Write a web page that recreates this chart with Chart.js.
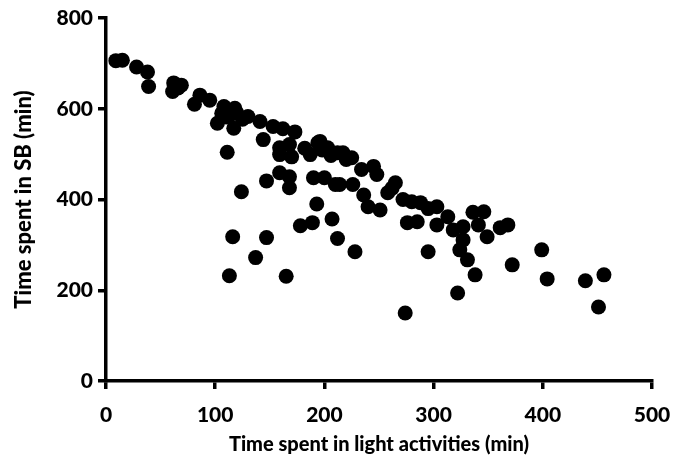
<!DOCTYPE html>
<html>
<head>
<meta charset="utf-8">
<script src="https://cdn.jsdelivr.net/npm/chart.js@4/dist/chart.umd.min.js"></script>
<style>
  html, body { margin: 0; padding: 0; background: #fff; }
  #wrap { width: 675px; height: 467px; }
</style>
</head>
<body>
<div id="wrap"><canvas id="scatter" width="675" height="467"></canvas></div>
<script>
// --- DATA ---
const lightMinutes = [
  9, 15, 28, 38, 39, 62, 69, 61, 66, 86, 81, 95, 108, 118, 102, 117, 125, 111,
  106, 113, 120, 110, 130, 141, 153, 162, 173, 144, 159, 159, 168, 170, 187, 194,
  203, 212, 196, 217, 225, 234, 245, 248, 182, 198, 206, 220,
  147, 159, 168, 168, 190, 200, 210, 214, 124, 193, 226, 236, 240, 251, 265, 258,
  272, 288, 303, 262, 280, 295, 276, 285, 303, 178, 189, 207, 212, 116, 147, 137,
  113, 165, 228, 295, 274, 322, 318, 327, 324, 331, 338, 313, 336, 346, 341, 349,
  327, 361, 368, 372, 399, 404, 439, 456, 451
];
const sbMinutes = [
  706, 707, 692, 681, 649, 657, 652, 638, 646, 630, 610, 619, 605, 601, 568, 557, 577, 504,
  590, 585, 590, 582, 583, 572, 561, 556, 549, 532, 514, 499, 521, 494, 499, 525,
  514, 503, 528, 503, 492, 466, 473, 455, 513, 509, 497, 488,
  441, 459, 450, 426, 448, 448, 433, 433, 417, 390, 433, 410, 384, 377, 437, 415,
  400, 393, 384, 425, 395, 380, 349, 351, 344, 342, 349, 357, 314, 318, 316, 272,
  232, 231, 285, 285, 150, 194, 333, 311, 289, 267, 234, 362, 372, 373, 344, 318,
  340, 338, 344, 256, 289, 225, 221, 234, 163
];
const xTicks = [0, 100, 200, 300, 400, 500];
const yTicks = [0, 200, 400, 600, 800];

const points = lightMinutes.map((x, i) => ({ x: x, y: sbMinutes[i] }));

// --- STYLE ---
const ink = '#000';
const tickFont = { family: 'Lato', size: 21, weight: '900' };
const titleFont = { family: 'Lato', size: 20, weight: '900' };

// keep the plot box fixed, whatever the label overhang is
function fixX(s) {
  s.height = 86;
  s.paddingLeft = 0;
  s.paddingRight = 0;
}
function fixY(s) {
  s.width = 106;
  s.paddingTop = 0;
  s.paddingBottom = 0;
}

const ctx = document.getElementById('scatter').getContext('2d');
new Chart(ctx, {
  type: 'scatter',
  data: {
    datasets: [{
      data: points,
      backgroundColor: ink,
      borderColor: ink,
      borderWidth: 0,
      pointRadius: 7.5,
      pointHoverRadius: 7.5,
      clip: false
    }]
  },
  options: {
    responsive: false,
    animation: false,
    events: [],
    layout: { padding: { top: 18, right: 23, left: 0, bottom: 0 } },
    plugins: { legend: { display: false }, tooltip: { enabled: false } },
    scales: {
      x: {
        type: 'linear',
        min: 0,
        max: 500,
        afterFit: fixX,
        afterBuildTicks: s => { s.ticks = xTicks.map(v => ({ value: v })); },
        border: { display: true, color: ink, width: 3.5 },
        grid: { drawOnChartArea: false, drawTicks: true, tickLength: 8, color: ink, lineWidth: 3.5 },
        ticks: { color: ink, font: tickFont, padding: 14, maxRotation: 0 },
        title: {
          display: true,
          text: 'Time spent in light activities (min)',
          color: ink,
          font: titleFont,
          padding: { top: 0, bottom: 10 }
        }
      },
      y: {
        type: 'linear',
        min: 0,
        max: 800,
        afterFit: fixY,
        afterBuildTicks: s => { s.ticks = yTicks.map(v => ({ value: v })); },
        border: { display: true, color: ink, width: 3.5 },
        grid: { drawOnChartArea: false, drawTicks: true, tickLength: 8, color: ink, lineWidth: 3.5 },
        ticks: { color: ink, font: tickFont, padding: 5 },
        title: {
          display: true,
          text: 'Time spent in SB (min)',
          color: ink,
          font: { family: 'Lato', size: 22, weight: '900' },
          padding: { top: 11, bottom: 0 }
        }
      }
    }
  }
});
</script>
</body>
</html>
